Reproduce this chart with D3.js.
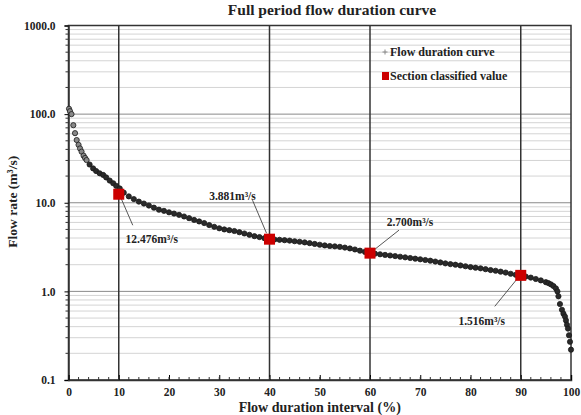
<!DOCTYPE html>
<html>
<head>
<meta charset="utf-8">
<script src="https://cdn.jsdelivr.net/npm/d3@7"></script>
<style>
  body { margin: 0; background: #fff; }
  svg text { font-family: "Liberation Serif", "Times New Roman", serif; font-weight: bold; fill: #222; }
</style>
</head>
<body>
<svg width="581" height="415"></svg>
<script>
// flow duration curve
const durationPct = [0.1, 0.3, 0.6, 0.96, 1.3, 1.63, 2.0, 2.3, 2.6, 3.0, 3.3, 3.6, 4.2, 4.9, 5.5, 6.2, 6.9, 7.5, 8.2, 8.9, 9.5, 10.2,
  11, 12, 13, 14, 15, 16, 17, 18, 19, 20, 21, 22, 23, 24, 25, 26, 27, 28, 29, 30,
  31, 32, 33, 34, 35, 36, 37, 38, 39, 40, 41, 42, 43, 44, 45, 46, 47, 48, 49, 50,
  51, 52, 53, 54, 55, 56, 57, 58, 59, 60, 61, 62, 63, 64, 65, 66, 67, 68, 69, 70,
  71, 72, 73, 74, 75, 76, 77, 78, 79, 80, 81, 82, 83, 84, 85, 86, 87, 88, 89, 90,
  91, 92, 93, 94, 95, 95.5, 96, 96.5, 97, 97.3, 97.5, 97.8, 98.2, 98.5, 98.8, 99, 99.2, 99.4, 99.6, 99.8, 100];
const flowRate = [115, 108, 100, 75, 61, 51, 45, 41, 37.7, 34, 32, 30.3, 27, 24.4, 22.8, 21.5, 20.6, 19.3, 17.8, 16.6, 15.5, 14.5,
  13, 11.8, 11, 10.3, 9.8, 9.3, 8.8, 8.35, 8.1, 7.8, 7.55, 7.3, 7.0, 6.7, 6.4, 6.15, 5.9, 5.6, 5.35, 5.15,
  5.0, 4.9, 4.8, 4.65, 4.5, 4.35, 4.2, 4.1, 3.98, 3.88, 3.85, 3.82, 3.78, 3.74, 3.68, 3.63, 3.57, 3.5, 3.43, 3.36,
  3.3, 3.25, 3.22, 3.18, 3.12, 3.05, 2.97, 2.88, 2.79, 2.7, 2.66, 2.62, 2.58, 2.54, 2.5, 2.46, 2.42, 2.38, 2.34, 2.3,
  2.26, 2.22, 2.17, 2.12, 2.07, 2.03, 2.0, 1.96, 1.92, 1.88, 1.85, 1.82, 1.78, 1.74, 1.71, 1.67, 1.63, 1.58, 1.54, 1.51,
  1.47, 1.43, 1.38, 1.33, 1.27, 1.24, 1.2, 1.15, 1.08, 1.0, 0.88, 0.72, 0.62, 0.56, 0.52, 0.47, 0.42, 0.38, 0.32, 0.27, 0.22];

// section classified values
const sectionPct = [10, 40, 60, 90];
const sectionFlow = [12.476, 3.881, 2.700, 1.516];
const sectionLabels = ["12.476m³/s", "3.881m³/s", "2.700m³/s", "1.516m³/s"];

const xTicks = [0, 10, 20, 30, 40, 50, 60, 70, 80, 90, 100];
const yTicks = [0.1, 1, 10, 100, 1000];

const svg = d3.select("svg"),
  width = +svg.attr("width"),
  height = +svg.attr("height");
const margin = {top: 25.5, right: 10, bottom: 35, left: 68.5};
const iw = width - margin.left - margin.right,
  ih = height - margin.top - margin.bottom;
const g = svg.append("g").attr("transform", "translate(" + margin.left + "," + margin.top + ")");

const x = d3.scaleLinear().domain([0, 100]).range([0, iw]);
const y = d3.scaleLog().domain([0.1, 1000]).range([ih, 0]);

// minor values on the log axis
let minorY = [];
for (let d = 0.1; d < 1000; d *= 10) {
  for (let k = 2; k <= 9; k++) minorY.push(+(d * k).toPrecision(3));
}

// horizontal grid
g.selectAll("line.minor").data(minorY).enter().append("line")
  .attr("class", "minor")
  .attr("x1", 0).attr("x2", iw)
  .attr("y1", d => y(d)).attr("y2", d => y(d))
  .attr("stroke", "#d4d4d4").attr("stroke-width", 1);
g.selectAll("line.major").data(yTicks).enter().append("line")
  .attr("class", "major")
  .attr("x1", 0).attr("x2", iw)
  .attr("y1", d => y(d)).attr("y2", d => y(d))
  .attr("stroke", "#8a8a8a").attr("stroke-width", 1);

// section lines
g.selectAll("line.section").data(sectionPct).enter().append("line")
  .attr("class", "section")
  .attr("x1", d => x(d)).attr("x2", d => x(d))
  .attr("y1", 0).attr("y2", ih)
  .attr("stroke", "#333").attr("stroke-width", 1.5);

// frame
g.append("rect").attr("width", iw).attr("height", ih)
  .attr("fill", "none").attr("stroke", "#333").attr("stroke-width", 1.5);

// y axis
const yAxis = g.append("g")
  .call(d3.axisLeft(y).tickValues(yTicks).tickFormat(d3.format(".1f")).tickSize(4));
yAxis.select(".domain").attr("stroke", "#333").attr("stroke-width", 1.5);
yAxis.selectAll("text").style("font-size", "11.5px").attr("x", -13);
g.append("g").selectAll("line").data(minorY).enter().append("line")
  .attr("x1", -3).attr("x2", 0)
  .attr("y1", d => y(d)).attr("y2", d => y(d))
  .attr("stroke", "#333");

// x axis
const xAxis = g.append("g").attr("transform", "translate(0," + ih + ")")
  .call(d3.axisBottom(x).tickValues(xTicks).tickSize(-5).tickPadding(8));
xAxis.select(".domain").attr("stroke", "#333").attr("stroke-width", 1.5);
xAxis.selectAll("text").style("font-size", "11.5px");
g.append("g").selectAll("line").data(d3.range(2, 100, 2)).enter().append("line")
  .attr("x1", d => x(d)).attr("x2", d => x(d))
  .attr("y1", ih - 3).attr("y2", ih)
  .attr("stroke", "#333");

// flow duration curve points
const pts = durationPct.map((d, i) => ({p: d, q: flowRate[i]}));
g.append("g").selectAll("circle").data(pts).enter().append("circle")
  .attr("cx", d => x(d.p)).attr("cy", d => y(d.q))
  .attr("r", 2.6)
  .attr("fill", (d, i) => i < 12 ? "#888" : "#2a2a2a")
  .attr("stroke", "#1a1a1a").attr("stroke-width", 0.8);

// section classified value markers
const secs = sectionPct.map((d, i) => ({p: d, q: sectionFlow[i], label: sectionLabels[i]}));
// label offsets relative to each marker: [text dx, text dy, leader start dx, dy, leader end dx, dy]
const labelOffsets = [[33, 45, 14, 31, 1, 1], [-37, -43, -17, -39, -3, -6], [40, -31, 29, -23, 5, -4], [-39, 46, -26, 31, -4, 4]];
g.append("g").selectAll("line").data(secs).enter().append("line")
  .attr("x1", (d, i) => x(d.p) + labelOffsets[i][2]).attr("y1", (d, i) => y(d.q) + labelOffsets[i][3])
  .attr("x2", (d, i) => x(d.p) + labelOffsets[i][4]).attr("y2", (d, i) => y(d.q) + labelOffsets[i][5])
  .attr("stroke", "#444").attr("stroke-width", 0.9);
g.append("g").selectAll("rect").data(secs).enter().append("rect")
  .attr("x", d => x(d.p) - 5.5).attr("y", d => y(d.q) - 5.5)
  .attr("width", 11).attr("height", 11)
  .attr("fill", "#cc0000");
g.append("g").selectAll("text").data(secs).enter().append("text")
  .attr("x", (d, i) => x(d.p) + labelOffsets[i][0])
  .attr("y", (d, i) => y(d.q) + labelOffsets[i][1])
  .attr("text-anchor", "middle").attr("dy", "0.35em")
  .style("font-size", "11.5px")
  .text(d => d.label);

// legend
const legend = svg.append("g").attr("transform", "translate(385,52)");
legend.append("path").attr("d", "M-2.5,0H2.5M0,-2.5V2.5").attr("stroke", "#888").attr("stroke-width", 1);
legend.append("text").attr("x", 5).attr("dy", "0.35em").style("font-size", "12px").text("Flow duration curve");
legend.append("rect").attr("x", -3).attr("y", 20).attr("width", 7).attr("height", 8).attr("fill", "#cc0000");
legend.append("text").attr("x", 5).attr("y", 24).attr("dy", "0.35em").style("font-size", "12px").text("Section classified value");

// titles
svg.append("text").attr("x", 332).attr("y", 15)
  .attr("text-anchor", "middle").style("font-size", "15.5px")
  .text("Full period flow duration curve");
svg.append("text").attr("x", margin.left + iw / 2).attr("y", 412)
  .attr("text-anchor", "middle").style("font-size", "14px")
  .text("Flow duration interval (%)");
svg.append("text").attr("transform", "translate(17," + (margin.top + y(10) - 1) + ") rotate(-90)")
  .attr("text-anchor", "middle").style("font-size", "13.5px")
  .text("Flow rate (m³/s)");
</script>
</body>
</html>
